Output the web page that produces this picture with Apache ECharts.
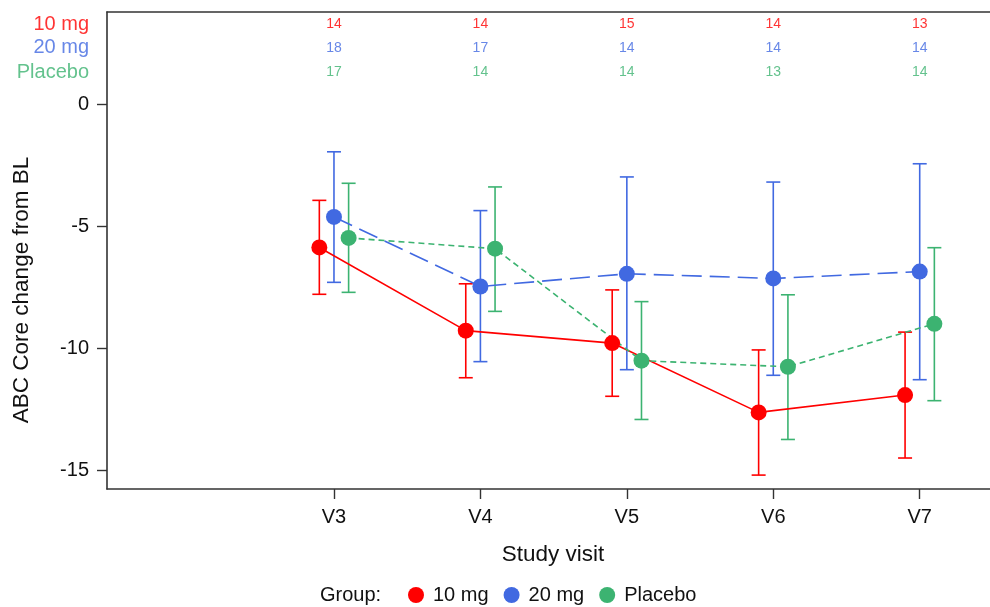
<!DOCTYPE html>
<html>
<head>
<meta charset="utf-8">
<script src="https://cdn.jsdelivr.net/npm/echarts@6/dist/echarts.min.js"></script>
<style>html,body{margin:0;padding:0;background:#fff;}#chart{width:990px;height:607px;}</style>
</head>
<body>
<div id="chart"></div>
<script>
const visits = [3, 4, 5, 6, 7];
const visitLabels = ['V3', 'V4', 'V5', 'V6', 'V7'];
const groups = ['10 mg', '20 mg', 'Placebo'];
const mean10 = [-5.85, -9.26, -9.77, -12.61, -11.90];
const lo10 = [-7.77, -11.19, -11.95, -15.18, -14.48];
const hi10 = [-3.92, -7.34, -7.59, -10.05, -9.32];
const mean20 = [-4.60, -7.45, -6.93, -7.12, -6.84];
const lo20 = [-7.28, -10.53, -10.86, -11.09, -11.27];
const hi20 = [-1.93, -4.34, -2.96, -3.17, -2.42];
const meanPl = [-5.46, -5.90, -10.49, -10.74, -8.98];
const loPl = [-7.69, -8.47, -12.90, -13.72, -12.13];
const hiPl = [-3.22, -3.37, -8.07, -7.79, -5.86];
const n10 = [14, 14, 15, 14, 13];
const n20 = [18, 17, 14, 14, 14];
const nPl = [17, 14, 14, 13, 14];
const countRowY = [3.3, 2.33, 1.33];
const yTicks = [0, -5, -10, -15];
const xOffsets = [-0.1, 0, 0.1];
const xMin = 1.45, xMax = 7.48, yMin = -15.75, yMax = 3.8;

const colors = ['#FF0000', '#4169E1', '#3CB371'];
const dashes = ['solid', [20, 8], [6, 4]];
const FONT = "'Liberation Sans', Arial, sans-serif";

const means = [mean10, mean20, meanPl];
const los = [lo10, lo20, loPl];
const his = [hi10, hi20, hiPl];
const ns = [n10, n20, nPl];

const series = [];
groups.forEach((g, gi) => {
  series.push({
    name: g + ' CI',
    type: 'custom',
    z: 2,
    silent: true,
    encode: { x: 0, y: [1, 2] },
    data: visits.map((v, i) => [v + xOffsets[gi], los[gi][i], his[gi][i]]),
    renderItem: function (params, api) {
      const x = api.value(0);
      const pLo = api.coord([x, api.value(1)]);
      const pHi = api.coord([x, api.value(2)]);
      const w = 7;
      const st = { stroke: colors[gi], lineWidth: 1.6 };
      return {
        type: 'group',
        children: [
          { type: 'line', shape: { x1: pLo[0], y1: pLo[1], x2: pHi[0], y2: pHi[1] }, style: st },
          { type: 'line', shape: { x1: pLo[0] - w, y1: pLo[1], x2: pLo[0] + w, y2: pLo[1] }, style: st },
          { type: 'line', shape: { x1: pHi[0] - w, y1: pHi[1], x2: pHi[0] + w, y2: pHi[1] }, style: st }
        ]
      };
    }
  });
});
groups.forEach((g, gi) => {
  series.push({
    name: g,
    type: 'line',
    z: 3,
    symbol: 'circle',
    symbolSize: 16,
    itemStyle: { color: colors[gi] },
    lineStyle: { color: colors[gi], width: 1.6, type: dashes[gi] },
    data: visits.map((v, i) => [v + xOffsets[gi], means[gi][i]])
  });
});
groups.forEach((g, gi) => {
  series.push({
    name: g + ' N',
    type: 'scatter',
    symbolSize: 0,
    silent: true,
    data: visits.map((v, i) => [v, countRowY[gi], ns[gi][i]]),
    label: {
      show: true, position: 'inside',
      formatter: p => String(p.value[2]),
      color: colors[gi], fontSize: 14, fontFamily: FONT
    }
  });
  series.push({
    name: g + ' row',
    type: 'scatter',
    symbolSize: 0,
    silent: true,
    data: [[xMin, countRowY[gi], g]],
    label: {
      show: true, position: 'left', distance: 18,
      formatter: p => p.value[2],
      color: colors[gi], fontSize: 20, fontFamily: FONT
    }
  });
});

const chart = echarts.init(document.getElementById('chart'), null, { renderer: 'canvas' });
chart.setOption({
  animation: false,
  backgroundColor: '#ffffff',
  textStyle: { fontFamily: FONT },
  grid: { left: 107, right: 0, top: 12, bottom: 118, containLabel: false },
  xAxis: [{
    type: 'value', min: xMin, max: xMax,
    splitLine: { show: false },
    axisLine: { show: true, onZero: false, lineStyle: { color: '#333', width: 1.6 } },
    axisTick: { show: true, length: 10, customValues: visits, lineStyle: { color: '#333', width: 1.4 } },
    axisLabel: {
      show: true, customValues: visits, margin: 18,
      formatter: v => visitLabels[visits.indexOf(Math.round(v))] || '',
      fontSize: 20, color: '#111', fontFamily: FONT
    }
  }, {
    type: 'value', position: 'top', min: xMin, max: xMax,
    splitLine: { show: false },
    axisLine: { show: true, onZero: false, lineStyle: { color: '#333', width: 1.6 } },
    axisTick: { show: false }, axisLabel: { show: false }
  }],
  yAxis: {
    type: 'value', min: yMin, max: yMax,
    splitLine: { show: false },
    axisLine: { show: true, onZero: false, lineStyle: { color: '#333', width: 1.6 } },
    axisTick: { show: true, length: 10, customValues: yTicks, lineStyle: { color: '#333', width: 1.4 } },
    axisLabel: {
      show: true, customValues: yTicks, margin: 18,
      fontSize: 20, color: '#111', fontFamily: FONT
    }
  },
  legend: {
    data: groups,
    icon: 'circle',
    itemWidth: 16, itemHeight: 16, itemGap: 15,
    left: 403, top: 580,
    textStyle: { fontSize: 20, color: '#111', fontFamily: FONT, padding: [0, 0, 0, 4] },
    selectedMode: false
  },
  graphic: [
    { type: 'text', x: 320, y: 595, style: { text: 'Group:', fontSize: 20, fill: '#111', fontFamily: FONT, verticalAlign: 'middle' } },
    { type: 'text', x: 553, y: 555, style: { text: 'Study visit', fontSize: 22.5, fill: '#111', fontFamily: FONT, align: 'center', verticalAlign: 'middle' } },
    { type: 'text', x: 22, y: 290, rotation: Math.PI / 2, style: { text: 'ABC Core change from BL', fontSize: 22.5, fill: '#111', fontFamily: FONT, align: 'center', verticalAlign: 'middle' } }
  ],
  series: series
});
</script>
</body>
</html>
